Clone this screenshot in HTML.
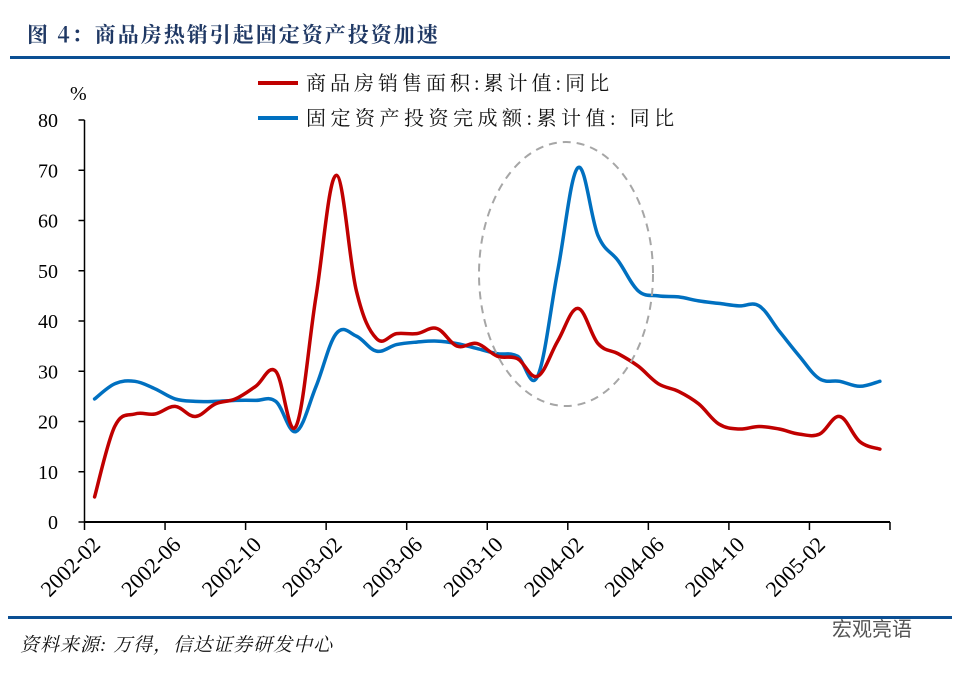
<!DOCTYPE html>
<html><head><meta charset="utf-8"><style>
body{margin:0;background:#fff;}
svg text{font-family:"Liberation Serif","Noto Serif CJK SC",serif;}
</style></head><body>
<svg width="962" height="670" viewBox="0 0 962 670" xmlns="http://www.w3.org/2000/svg">
<text x="27" y="42" font-size="21" font-weight="bold" fill="#1f3864" letter-spacing="2" style="font-family:'Noto Serif CJK SC','Liberation Serif',serif">图 4：商品房热销引起固定资产投资加速</text>
<rect x="10" y="56" width="940" height="3" fill="#0b4f93"/>
<text x="70" y="100" font-size="20">%</text>
<g>
<line x1="258" y1="83" x2="298" y2="83" stroke="#c00000" stroke-width="4"/>
<text x="306" y="90" font-size="20" fill="#111" letter-spacing="4">商品房销售面积:累计值:同比</text>
<line x1="258" y1="118" x2="298" y2="118" stroke="#0070c0" stroke-width="4"/>
<text x="306" y="125" font-size="20" fill="#111" letter-spacing="4.5">固定资产投资完成额:累计值: 同比</text>
</g>
<g id="axes"></g>
<g id="series"></g>
<ellipse cx="566" cy="274" rx="87" ry="132" fill="none" stroke="#a6a6a6" stroke-width="2" stroke-dasharray="8,6"/>
<rect x="8" y="616" width="944" height="3" fill="#0b4f93"/>
<text x="20" y="651" font-size="19" font-style="italic" fill="#111" letter-spacing="1">资料来源: 万得，信达证券研发中心</text>
<text x="832" y="636" font-size="20" fill="#555" style="font-family:'Liberation Sans','Noto Sans CJK SC',sans-serif">宏观亮语</text>
</svg>
<script>
const months=[];for(let i=0;i<40;i++){const m=i+1;const y=2002+Math.floor(m/12);const mm=m%12+1;months.push(y+'-'+String(mm).padStart(2,'0'));}
const yTicks=[0,10,20,30,40,50,60,70,80];
const xTickLabels=['2002-02','2002-06','2002-10','2003-02','2003-06','2003-10','2004-02','2004-06','2004-10','2005-02'];
const salesArea=[5,19,21.5,21.5,23,21,23.5,24.5,27,30,19,45,69,46,36.5,37.5,37.5,38.5,35,35.5,33,32.5,29,36,42.5,35.5,33.5,31,27.5,26,23.5,19.5,18.5,19,18.5,17.5,17.5,21,16,14.5];
const fixedInvest=[24.5,27.5,28,26.5,24.5,24,24,24.2,24.2,24,18,27,37.5,37,34,35.3,35.8,36,35.5,34.5,33.5,33,29,50,70.5,57,52,46,45,44.8,44,43.5,43,43,38,33,28.5,28,27,28];
const X0=84.5,X1=890,Y0=522,Y1=120,YMAX=80;
const step=(X1-X0)/months.length;
const xs=i=>X0+(i+0.5)*step;
const ys=v=>Y0-(v/YMAX)*(Y0-Y1);
const NS='http://www.w3.org/2000/svg';
const ax=document.getElementById('axes');
function mk(t,a,p){const e=document.createElementNS(NS,t);for(const k in a)e.setAttribute(k,a[k]);p.appendChild(e);return e;}
const ya=mk('line',{x1:X0,y1:Y1,x2:X0,y2:Y0,stroke:'#000','stroke-width':1.5},ax);


yTicks.forEach(v=>{
 const l=mk('line',{x1:X0-6,y1:ys(v),x2:X0,y2:ys(v),stroke:'#000','stroke-width':1.5},ax);
 
 
 const t=mk('text',{x:58,y:ys(v)+7,'text-anchor':'end','font-size':20},ax);t.textContent=v;
 
 
});
const xa=mk('line',{x1:X0,y1:Y0,x2:X1,y2:Y0,stroke:'#000','stroke-width':2},ax);


for(let k=0;k<=months.length;k+=4){
 const x=X0+k*step;
 const l=mk('line',{x1:x,y1:Y0,x2:x,y2:Y0+8,stroke:'#000','stroke-width':1.5},ax);
 
 
}
xTickLabels.forEach((lab,j)=>{
 const x=X0+j*4*step+17;
 const y=Y0+24;
 const t=mk('text',{x:x,y:y,'text-anchor':'end','font-size':22,transform:`rotate(-45 ${x} ${y})`},ax);
 t.textContent=lab;
 
 
});
const sg=document.getElementById('series');
function line(data,color,name){
 const P=data.map((v,i)=>[xs(i),ys(v)]);
 let d='M'+P[0][0].toFixed(1)+','+P[0][1].toFixed(1);
 for(let i=0;i<P.length-1;i++){
  const p0=P[Math.max(0,i-1)],p1=P[i],p2=P[i+1],p3=P[Math.min(P.length-1,i+2)];
  const t=0.18;
  const c1=[p1[0]+(p2[0]-p0[0])*t,p1[1]+(p2[1]-p0[1])*t];
  const c2=[p2[0]-(p3[0]-p1[0])*t,p2[1]-(p3[1]-p1[1])*t];
  d+='C'+c1.map(n=>n.toFixed(1)).join(',')+' '+c2.map(n=>n.toFixed(1)).join(',')+' '+p2[0].toFixed(1)+','+p2[1].toFixed(1);
 }
 const p=mk('path',{d:d,fill:'none',stroke:color,'stroke-width':3.5,'stroke-linejoin':'round','stroke-linecap':'round'},sg);
 
 
}
line(fixedInvest,'#0070c0','fixed-investment-line');
line(salesArea,'#c00000','sales-area-line');
</script>
</body></html>
